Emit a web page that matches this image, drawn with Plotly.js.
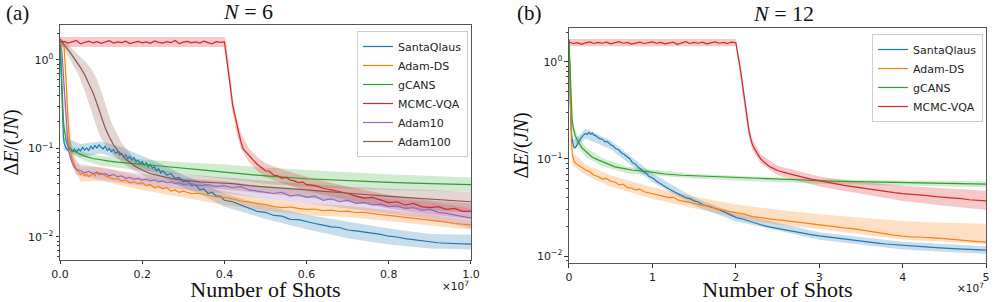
<!DOCTYPE html>
<html><head><meta charset="utf-8">
<script src="https://cdn.plot.ly/plotly-3.0.1.min.js"></script>
<style>html,body{margin:0;padding:0;background:#fff}#chart{width:997px;height:302px}</style>
</head><body><div id="chart"></div>
<script>
// ---------------- Panel (a): N = 6  (x in units of 1e7 shots) ----------------
const aSantaX = [0,0.002,0.004,0.006,0.008,0.01,0.015,0.02,0.025,0.03,0.035,0.04,0.045,0.05,0.055,0.06,0.065,0.07,0.075,0.08,0.085,0.09,0.095,0.10,0.105,0.11,0.115,0.12,0.125,0.13,0.135,0.14,0.145,0.15,0.155,0.16,0.165,0.17,0.175,0.18,0.185,0.19,0.195,0.20,0.205,0.21,0.215,0.22,0.225,0.23,0.235,0.24,0.245,0.25,0.26,0.27,0.28,0.29,0.30,0.31,0.32,0.33,0.34,0.35,0.36,0.37,0.38,0.39,0.40,0.42,0.44,0.46,0.48,0.50,0.52,0.54,0.56,0.58,0.60,0.62,0.64,0.66,0.68,0.70,0.72,0.74,0.76,0.78,0.80,0.82,0.84,0.86,0.88,0.90,0.92,0.94,0.96,0.98,1.00];
const aSantaY = [1.7,0.9,0.45,0.22,0.14,0.115,0.10,0.095,0.10,0.092,0.098,0.091,0.099,0.094,0.103,0.096,0.101,0.095,0.106,0.099,0.108,0.101,0.110,0.103,0.099,0.106,0.095,0.100,0.092,0.097,0.088,0.092,0.084,0.088,0.080,0.085,0.077,0.081,0.074,0.079,0.071,0.074,0.068,0.071,0.065,0.069,0.062,0.066,0.060,0.062,0.056,0.059,0.053,0.056,0.050,0.052,0.046,0.047,0.042,0.043,0.038,0.039,0.034,0.035,0.031,0.032,0.029,0.029,0.026,0.025,0.023,0.0215,0.0195,0.019,0.0175,0.0172,0.0158,0.0157,0.0148,0.0142,0.0136,0.0130,0.0128,0.0120,0.0117,0.0114,0.0112,0.0107,0.0102,0.0100,0.0096,0.0093,0.0090,0.0088,0.0086,0.0085,0.0084,0.0084,0.0083];
const aSantaBandX = [0,0.01,0.05,0.1,0.15,0.2,0.25,0.3,0.35,0.4,0.5,0.6,0.7,0.8,0.9,1.0];
const aSantaLo = [1.5,0.095,0.080,0.088,0.075,0.060,0.047,0.036,0.029,0.022,0.016,0.0122,0.0097,0.0082,0.0074,0.0072];
const aSantaHi = [1.9,0.135,0.112,0.120,0.103,0.083,0.066,0.050,0.041,0.031,0.0225,0.0178,0.0148,0.0125,0.0108,0.0106];

const aAdamDSX = [0,0.005,0.01,0.013,0.016,0.019,0.022,0.025,0.03,0.035,0.04,0.045,0.05,0.055,0.06,0.065,0.07,0.075,0.08,0.085,0.09,0.095,0.10,0.11,0.12,0.13,0.14,0.15,0.16,0.17,0.18,0.19,0.20,0.21,0.22,0.23,0.24,0.25,0.26,0.27,0.28,0.29,0.30,0.32,0.34,0.36,0.38,0.40,0.42,0.44,0.46,0.48,0.50,0.52,0.54,0.56,0.58,0.60,0.62,0.64,0.66,0.68,0.70,0.72,0.74,0.76,0.78,0.80,0.82,0.84,0.86,0.88,0.90,0.92,0.94,0.96,0.98,1.00];
const aAdamDSY = [1.7,1.65,1.4,0.9,0.45,0.22,0.13,0.095,0.075,0.064,0.058,0.055,0.051,0.053,0.049,0.051,0.048,0.050,0.052,0.049,0.054,0.050,0.053,0.049,0.047,0.045,0.046,0.043,0.044,0.041,0.042,0.040,0.041,0.038,0.039,0.036,0.037,0.035,0.036,0.033,0.034,0.032,0.033,0.031,0.031,0.0295,0.0285,0.028,0.027,0.0255,0.0245,0.024,0.0232,0.022,0.0215,0.0218,0.021,0.0205,0.0207,0.0199,0.0201,0.0194,0.0196,0.0189,0.0190,0.0183,0.0179,0.0175,0.0171,0.0165,0.0163,0.0158,0.0156,0.0150,0.0147,0.0142,0.0139,0.0137];
const aAdamDSBandX = [0,0.01,0.02,0.03,0.05,0.1,0.2,0.3,0.4,0.5,0.6,0.7,0.8,0.9,1.0];
const aAdamDSLo = [1.6,1.2,0.15,0.062,0.042,0.043,0.034,0.028,0.023,0.0198,0.0176,0.0168,0.015,0.0135,0.0121];
const aAdamDSHi = [1.8,1.55,0.32,0.09,0.062,0.062,0.048,0.039,0.033,0.027,0.024,0.0225,0.020,0.0178,0.0155];

const aGcansX = [0,0.002,0.004,0.006,0.008,0.01,0.015,0.02,0.03,0.04,0.05,0.06,0.08,0.1,0.12,0.14,0.16,0.18,0.2,0.25,0.3,0.35,0.4,0.5,0.6,0.7,0.8,0.9,1.0];
const aGcansY = [1.7,0.9,0.5,0.32,0.22,0.17,0.12,0.105,0.095,0.09,0.086,0.082,0.077,0.074,0.072,0.070,0.069,0.068,0.066,0.063,0.0605,0.057,0.054,0.049,0.0455,0.0432,0.0415,0.040,0.039];
const aGcansBandX = [0,0.01,0.03,0.06,0.1,0.2,0.3,0.4,0.5,0.6,0.7,0.8,0.9,1.0];
const aGcansLo = [1.6,0.15,0.085,0.072,0.064,0.056,0.051,0.045,0.040,0.037,0.035,0.034,0.033,0.0325];
const aGcansHi = [1.8,0.19,0.105,0.09,0.082,0.075,0.07,0.066,0.061,0.057,0.054,0.051,0.049,0.047];

const aMcmcX = [0,0.01,0.02,0.03,0.04,0.05,0.06,0.07,0.08,0.09,0.10,0.11,0.12,0.13,0.14,0.15,0.16,0.17,0.18,0.19,0.20,0.21,0.22,0.23,0.24,0.25,0.26,0.27,0.28,0.29,0.30,0.31,0.32,0.33,0.34,0.35,0.36,0.37,0.38,0.39,0.40,0.405,0.41,0.415,0.42,0.425,0.43,0.435,0.44,0.445,0.45,0.46,0.47,0.48,0.49,0.50,0.51,0.52,0.53,0.54,0.55,0.56,0.57,0.58,0.59,0.60,0.62,0.64,0.66,0.68,0.70,0.72,0.74,0.76,0.78,0.80,0.82,0.84,0.86,0.88,0.90,0.92,0.94,0.96,0.98,1.0];
const aMcmcY = [1.58,1.62,1.55,1.60,1.66,1.52,1.58,1.63,1.56,1.61,1.54,1.59,1.65,1.55,1.60,1.57,1.63,1.53,1.59,1.62,1.56,1.60,1.54,1.64,1.58,1.55,1.61,1.57,1.66,1.53,1.59,1.62,1.56,1.60,1.55,1.63,1.57,1.52,1.61,1.58,1.60,1.1,0.8,0.48,0.31,0.24,0.18,0.15,0.12,0.1,0.094,0.083,0.074,0.066,0.061,0.056,0.055,0.050,0.049,0.046,0.047,0.044,0.043,0.041,0.042,0.039,0.038,0.0355,0.034,0.0325,0.031,0.029,0.0275,0.028,0.026,0.0245,0.025,0.023,0.024,0.022,0.0215,0.022,0.0205,0.021,0.0195,0.0195];
const aMcmcBandX = [0,0.1,0.2,0.3,0.4,0.405,0.41,0.42,0.43,0.44,0.46,0.48,0.5,0.55,0.6,0.7,0.8,0.9,1.0];
const aMcmcLo = [1.40,1.40,1.40,1.40,1.40,0.9,0.62,0.25,0.145,0.1,0.07,0.056,0.047,0.039,0.033,0.026,0.021,0.018,0.016];
const aMcmcHi = [1.82,1.82,1.82,1.82,1.82,1.5,1.0,0.38,0.22,0.15,0.1,0.08,0.068,0.056,0.048,0.037,0.030,0.026,0.024];

const aAdam10X = [0,0.005,0.008,0.011,0.014,0.017,0.02,0.025,0.03,0.035,0.04,0.05,0.06,0.07,0.08,0.09,0.10,0.11,0.12,0.13,0.14,0.15,0.16,0.17,0.18,0.19,0.20,0.21,0.22,0.23,0.24,0.25,0.26,0.27,0.28,0.29,0.30,0.32,0.34,0.36,0.38,0.40,0.42,0.44,0.46,0.48,0.50,0.52,0.54,0.56,0.58,0.60,0.62,0.64,0.66,0.68,0.70,0.72,0.74,0.76,0.78,0.80,0.82,0.84,0.86,0.88,0.90,0.92,0.94,0.96,0.98,1.00];
const aAdam10Y = [1.7,1.2,0.7,0.4,0.22,0.14,0.10,0.08,0.068,0.062,0.058,0.056,0.053,0.055,0.052,0.054,0.051,0.052,0.049,0.051,0.048,0.049,0.046,0.047,0.045,0.046,0.044,0.045,0.043,0.044,0.042,0.043,0.041,0.042,0.040,0.041,0.039,0.040,0.038,0.039,0.037,0.038,0.036,0.037,0.034,0.033,0.032,0.031,0.032,0.029,0.030,0.028,0.029,0.026,0.027,0.025,0.026,0.024,0.0245,0.023,0.0235,0.022,0.0225,0.021,0.0215,0.020,0.0205,0.019,0.0185,0.0178,0.017,0.0163];
const aAdam10BandX = [0,0.01,0.02,0.04,0.1,0.2,0.3,0.4,0.5,0.6,0.7,0.8,0.9,1.0];
const aAdam10Lo = [1.6,0.30,0.085,0.050,0.044,0.038,0.034,0.031,0.027,0.024,0.021,0.0185,0.016,0.0125];
const aAdam10Hi = [1.8,0.55,0.12,0.068,0.060,0.051,0.046,0.043,0.037,0.033,0.030,0.027,0.025,0.021];

const aAdam100X = [0,0.01,0.02,0.03,0.04,0.05,0.06,0.07,0.08,0.09,0.10,0.11,0.12,0.13,0.14,0.15,0.16,0.18,0.20,0.22,0.24,0.26,0.28,0.30,0.34,0.38,0.42,0.46,0.50,0.55,0.60,0.65,0.70,0.75,0.80,0.85,0.90,0.95,1.0];
const aAdam100Y = [1.7,1.5,1.3,1.12,0.97,0.82,0.68,0.55,0.43,0.32,0.23,0.17,0.135,0.11,0.095,0.084,0.076,0.064,0.057,0.052,0.049,0.047,0.045,0.044,0.042,0.041,0.040,0.038,0.037,0.0355,0.034,0.0325,0.031,0.030,0.0288,0.0278,0.027,0.026,0.025];
const aAdam100BandX = [0,0.02,0.044,0.06,0.075,0.09,0.1,0.124,0.15,0.18,0.22,0.3,0.4,0.5,0.6,0.7,0.8,0.9,1.0];
const aAdam100Lo = [1.6,1.1,0.70,0.45,0.28,0.17,0.13,0.09,0.07,0.056,0.045,0.038,0.034,0.031,0.028,0.025,0.022,0.020,0.019];
const aAdam100Hi = [1.8,1.5,1.14,0.98,0.81,0.6,0.45,0.2,0.115,0.078,0.061,0.051,0.047,0.043,0.040,0.037,0.035,0.034,0.032];

// ---------------- Panel (b): N = 12 ----------------
const bSantaX = [0,0.005,0.01,0.02,0.03,0.04,0.05,0.06,0.07,0.08,0.10,0.12,0.14,0.16,0.18,0.20,0.22,0.24,0.26,0.28,0.30,0.33,0.36,0.40,0.43,0.46,0.50,0.53,0.56,0.60,0.63,0.66,0.70,0.73,0.76,0.80,0.83,0.86,0.90,0.93,0.96,1.00,1.05,1.10,1.15,1.20,1.25,1.30,1.35,1.40,1.45,1.50,1.55,1.60,1.70,1.80,1.90,2.0,2.1,2.2,2.3,2.4,2.5,2.6,2.7,2.8,2.9,3.0,3.1,3.2,3.3,3.4,3.5,3.6,3.7,3.8,3.9,4.0,4.2,4.4,4.6,4.8,5.0];
const bSantaY = [1.7,1.0,0.55,0.28,0.18,0.15,0.14,0.133,0.13,0.132,0.14,0.152,0.163,0.172,0.178,0.183,0.179,0.188,0.180,0.185,0.176,0.172,0.163,0.160,0.150,0.152,0.140,0.136,0.128,0.124,0.115,0.112,0.104,0.100,0.092,0.088,0.082,0.079,0.073,0.071,0.066,0.064,0.059,0.055,0.052,0.049,0.046,0.044,0.042,0.040,0.039,0.037,0.036,0.034,0.032,0.030,0.0275,0.025,0.0238,0.0222,0.0210,0.0200,0.0192,0.0185,0.0178,0.0171,0.0166,0.0161,0.0157,0.0152,0.0148,0.0145,0.0141,0.0138,0.0136,0.0133,0.0131,0.0128,0.0125,0.0122,0.0119,0.0117,0.0115];
const bSantaBandX = [0,0.05,0.2,0.5,1.0,1.5,2.0,3.0,4.0,5.0];
const bSantaLo = [1.6,0.125,0.163,0.126,0.058,0.033,0.0228,0.0147,0.0117,0.0105];
const bSantaHi = [1.8,0.155,0.205,0.155,0.071,0.040,0.0275,0.0176,0.014,0.0126];

const bAdamDSX = [0,0.005,0.01,0.015,0.02,0.03,0.04,0.06,0.08,0.11,0.15,0.2,0.25,0.3,0.35,0.4,0.45,0.5,0.55,0.6,0.65,0.7,0.75,0.8,0.85,0.9,0.95,1.0,1.05,1.1,1.15,1.2,1.25,1.3,1.35,1.4,1.45,1.5,1.55,1.6,1.7,1.75,1.8,1.9,2.0,2.1,2.2,2.3,2.4,2.5,2.6,2.7,2.8,2.9,3.0,3.1,3.2,3.3,3.4,3.5,3.6,3.7,3.8,3.9,4.0,4.1,4.2,4.3,4.4,4.5,4.6,4.7,4.8,4.9,5.0];
const bAdamDSY = [1.7,1.3,0.8,0.45,0.25,0.15,0.11,0.095,0.090,0.087,0.082,0.077,0.074,0.068,0.066,0.062,0.063,0.059,0.058,0.054,0.055,0.051,0.050,0.048,0.049,0.046,0.045,0.044,0.0435,0.042,0.041,0.040,0.0405,0.038,0.037,0.0365,0.0355,0.035,0.034,0.0335,0.0325,0.031,0.0305,0.029,0.028,0.027,0.0255,0.0248,0.0240,0.0236,0.0232,0.0226,0.0221,0.0215,0.0210,0.0205,0.0198,0.0195,0.0192,0.0186,0.0178,0.0172,0.0168,0.0164,0.0160,0.0157,0.0157,0.0154,0.0153,0.0151,0.0148,0.0145,0.0143,0.0141,0.0140];
const bAdamDSBandX = [0,0.05,0.2,0.5,1.0,1.5,2.0,2.5,3.0,3.5,4.0,4.5,5.0];
const bAdamDSLo = [1.6,0.085,0.068,0.052,0.039,0.031,0.025,0.021,0.019,0.0168,0.0148,0.014,0.0133];
const bAdamDSHi = [1.8,0.115,0.088,0.068,0.051,0.041,0.034,0.030,0.027,0.025,0.023,0.022,0.0215];

const bGcansX = [0,0.01,0.02,0.03,0.036,0.05,0.072,0.1,0.156,0.2,0.276,0.35,0.45,0.55,0.65,0.755,0.95,1.15,1.35,1.55,1.75,2.0,2.37,2.75,3.17,3.6,4.0,4.5,5.0];
const bGcansY = [1.7,0.9,0.5,0.33,0.265,0.21,0.177,0.155,0.130,0.12,0.105,0.098,0.090,0.083,0.080,0.077,0.074,0.070,0.068,0.067,0.065,0.064,0.062,0.0605,0.059,0.058,0.057,0.056,0.055];
const bGcansBandX = [0,0.05,0.1,0.2,0.4,0.7,1.0,1.5,2.0,3.0,4.0,5.0];
const bGcansLo = [1.6,0.18,0.135,0.105,0.084,0.071,0.068,0.063,0.060,0.0555,0.053,0.051];
const bGcansHi = [1.8,0.24,0.175,0.132,0.102,0.083,0.078,0.070,0.067,0.062,0.060,0.059];

const bMcmcX = [0,0.05,0.1,0.15,0.2,0.25,0.3,0.35,0.4,0.45,0.5,0.55,0.6,0.65,0.7,0.75,0.8,0.85,0.9,0.95,1.0,1.05,1.1,1.15,1.2,1.25,1.3,1.35,1.4,1.45,1.5,1.55,1.6,1.65,1.7,1.75,1.8,1.85,1.9,1.95,2.0,2.02,2.04,2.06,2.08,2.10,2.12,2.14,2.16,2.18,2.20,2.23,2.26,2.30,2.35,2.40,2.45,2.50,2.6,2.7,2.8,2.9,3.0,3.1,3.2,3.3,3.4,3.5,3.6,3.7,3.8,3.9,4.0,4.1,4.2,4.3,4.4,4.5,4.6,4.7,4.8,4.9,5.0];
const bMcmcY = [1.60,1.55,1.58,1.52,1.57,1.61,1.55,1.59,1.56,1.60,1.54,1.58,1.62,1.56,1.59,1.53,1.57,1.60,1.55,1.58,1.61,1.56,1.59,1.54,1.57,1.60,1.52,1.58,1.62,1.55,1.59,1.56,1.60,1.54,1.58,1.61,1.56,1.59,1.55,1.60,1.58,1.3,1.0,0.78,0.58,0.42,0.31,0.24,0.19,0.16,0.14,0.125,0.112,0.100,0.091,0.084,0.080,0.076,0.072,0.068,0.065,0.062,0.0595,0.058,0.0555,0.0535,0.052,0.0505,0.0485,0.0475,0.046,0.045,0.044,0.0435,0.0425,0.042,0.041,0.0405,0.0395,0.039,0.038,0.0375,0.037];
const bMcmcBandX = [0,1,2,2.04,2.08,2.12,2.16,2.2,2.3,2.5,3.0,3.5,4.0,4.5,5.0];
const bMcmcLo = [1.45,1.45,1.45,0.85,0.49,0.26,0.165,0.122,0.09,0.068,0.052,0.044,0.037,0.033,0.030];
const bMcmcHi = [1.72,1.72,1.72,1.15,0.68,0.36,0.22,0.16,0.112,0.085,0.066,0.058,0.053,0.050,0.047];

const methodNames = ['SantaQlaus','Adam-DS','gCANS','MCMC-VQA','Adam10','Adam100'];
const yTickVals = [0.01, 0.1, 1];
const yTickText = ['10<sup>−2</sup>','10<sup>−1</sup>','10<sup>0</sup>'];

// ---------------- styling ----------------
const COL = {
  'SantaQlaus':['#1f77b4','rgba(31,119,180,0.25)'],
  'Adam-DS':['#ff7f0e','rgba(255,127,14,0.25)'],
  'gCANS':['#2ca02c','rgba(44,160,44,0.22)'],
  'MCMC-VQA':['#d62728','rgba(214,39,40,0.25)'],
  'Adam10':['#9467bd','rgba(148,103,189,0.25)'],
  'Adam100':['#8c564b','rgba(140,86,75,0.25)']
};
function band(x, lo, hi, name, xa, ya){
  return {type:'scatter', mode:'lines', x:x.concat(x.slice().reverse()), y:hi.concat(lo.slice().reverse()),
    fill:'toself', fillcolor:COL[name][1], line:{width:0}, hoverinfo:'skip', showlegend:false, xaxis:xa, yaxis:ya};
}
function line(x, y, name, xa, ya, lg){
  return {type:'scatter', mode:'lines', x:x, y:y, name:name, line:{color:COL[name][0], width:1.2},
    xaxis:xa, yaxis:ya, legend:lg};
}
const traces = [
  band(aSantaBandX,aSantaLo,aSantaHi,'SantaQlaus','x','y'),
  band(aAdamDSBandX,aAdamDSLo,aAdamDSHi,'Adam-DS','x','y'),
  band(aGcansBandX,aGcansLo,aGcansHi,'gCANS','x','y'),
  band(aMcmcBandX,aMcmcLo,aMcmcHi,'MCMC-VQA','x','y'),
  band(aAdam10BandX,aAdam10Lo,aAdam10Hi,'Adam10','x','y'),
  band(aAdam100BandX,aAdam100Lo,aAdam100Hi,'Adam100','x','y'),
  line(aSantaX,aSantaY,methodNames[0],'x','y','legend'),
  line(aAdamDSX,aAdamDSY,methodNames[1],'x','y','legend'),
  line(aGcansX,aGcansY,methodNames[2],'x','y','legend'),
  line(aMcmcX,aMcmcY,methodNames[3],'x','y','legend'),
  line(aAdam10X,aAdam10Y,methodNames[4],'x','y','legend'),
  line(aAdam100X,aAdam100Y,methodNames[5],'x','y','legend'),
  band(bSantaBandX,bSantaLo,bSantaHi,'SantaQlaus','x2','y2'),
  band(bAdamDSBandX,bAdamDSLo,bAdamDSHi,'Adam-DS','x2','y2'),
  band(bGcansBandX,bGcansLo,bGcansHi,'gCANS','x2','y2'),
  band(bMcmcBandX,bMcmcLo,bMcmcHi,'MCMC-VQA','x2','y2'),
  line(bSantaX,bSantaY,methodNames[0],'x2','y2','legend2'),
  line(bAdamDSX,bAdamDSY,methodNames[1],'x2','y2','legend2'),
  line(bGcansX,bGcansY,methodNames[2],'x2','y2','legend2'),
  line(bMcmcX,bMcmcY,methodNames[3],'x2','y2','legend2')
];

const minorVals = [];
[0.001,0.01,0.1,1].forEach(d => { for (let k=2;k<=9;k++) minorVals.push(k*d); });
const tickFont = {family:'DejaVu Sans', size:11, color:'#222'};
const serif = 'Liberation Serif, DejaVu Serif, serif';
function xax(domain, range, dtick, fmt, anchor){
  return {domain:domain, range:range, dtick:dtick, tick0:0, tickformat:fmt, anchor:anchor,
    ticks:'outside', ticklen:3.5, tickwidth:1, tickcolor:'#333', showline:true, mirror:true,
    linecolor:'#555', linewidth:1, showgrid:false, zeroline:false, tickfont:tickFont,
    title:{text:'Number of Shots', font:{family:serif, size:22, color:'#111'}, standoff:1}};
}
function yax(domain, range, anchor, standoff){
  return {domain:domain, type:'log', range:range, anchor:anchor, tickmode:'array',
    tickvals:yTickVals, ticktext:yTickText, ticks:'outside', ticklen:3.5, tickwidth:1, tickcolor:'#333',
    minor:{tickmode:'array', tickvals:minorVals, ticks:'outside', ticklen:2, tickcolor:'#444', showgrid:false},
    showline:true, mirror:true, linecolor:'#555', linewidth:1, showgrid:false, zeroline:false,
    tickfont:tickFont,
    title:{text:'Δ<i>E</i>/(<i>JN</i>)', font:{family:serif, size:20, color:'#111'}, standoff:standoff}};
}
const legendBase = {xanchor:'left', yanchor:'top', bgcolor:'rgba(255,255,255,0.85)', bordercolor:'#cccccc',
  borderwidth:1, font:{family:'DejaVu Sans', size:11, color:'#222'}, tracegroupgap:0};

function note(text, px, py, size, family, xanchor){
  return {text:text, x:px/997, y:1-py/302, xref:'paper', yref:'paper', xanchor:xanchor||'center', yanchor:'middle',
    showarrow:false, font:{family:family, size:size, color:'#111'}};
}
const layout = {
  width:997, height:302, margin:{l:0,r:0,t:0,b:0}, paper_bgcolor:'#fff', plot_bgcolor:'#fff',
  showlegend:true,
  xaxis: xax([0.0602,0.4724],[0,1.0],0.2,'.1f','y'),
  yaxis: yax([0.1391,0.9172],[-2.26,0.395],'x',8),
  xaxis2: xax([0.5707,0.9890],[0,5],1,'d','y2'),
  yaxis2: yax([0.1291,0.9073],[-2.072,0.35],'x2',2),
  legend: Object.assign({x:357/997, y:1-31/302}, legendBase),
  legend2: Object.assign({x:872/997, y:1-34/302}, legendBase),
  annotations:[
    note('(a)', 17, 13, 21, serif),
    note('<i>N</i> = 6', 248, 12, 22, serif),
    note('(b)', 529, 13, 21, serif),
    note('<i>N</i> = 12', 783, 13, 22, serif),
    note('×10<sup>7</sup>', 471, 285, 10.5, 'DejaVu Sans', 'right'),
    note('×10<sup>7</sup>', 986, 287, 10.5, 'DejaVu Sans', 'right')
  ]
};
Plotly.newPlot('chart', traces, layout, {displayModeBar:false, staticPlot:true});
</script></body></html>
